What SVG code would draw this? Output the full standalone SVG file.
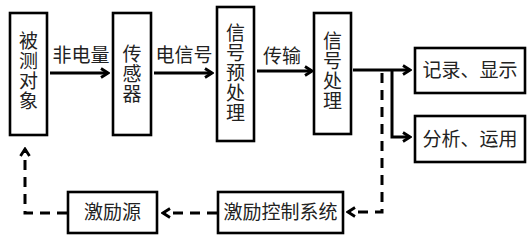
<svg xmlns="http://www.w3.org/2000/svg" width="532" height="241" viewBox="0 0 532 241">
<defs>
<marker id="ah" viewBox="0 0 12 12" refX="10" refY="6" markerWidth="12" markerHeight="12" markerUnits="userSpaceOnUse" orient="auto">
<path d="M3,1.5 L10,6 L3,10.5" fill="none" stroke="#000" stroke-width="2.8" stroke-linejoin="miter"/>
</marker>
</defs>
<style>
.box{fill:#fff;stroke:#000;stroke-width:2.6}
.t{font-family:"Liberation Sans","Noto Sans CJK SC",sans-serif;font-size:19px;fill:#222}
.ln{fill:none;stroke:#000;stroke-width:3}
.ds{fill:none;stroke:#000;stroke-width:3;stroke-dasharray:10,7}
</style>
<rect width="532" height="241" fill="#fff"/>
<g id="n1"><rect class="box" x="10" y="13" width="37" height="122"/>
<text class="t" text-anchor="middle"><tspan x="28.5" y="48">被</tspan><tspan x="28.5" y="68">测</tspan><tspan x="28.5" y="88">对</tspan><tspan x="28.5" y="108">象</tspan></text></g>
<g id="n2"><rect class="box" x="113" y="13" width="38" height="122"/>
<text class="t" text-anchor="middle"><tspan x="132" y="61">传</tspan><tspan x="132" y="81">感</tspan><tspan x="132" y="101">器</tspan></text></g>
<g id="n3"><rect class="box" x="217" y="7" width="37" height="134"/>
<text class="t" text-anchor="middle"><tspan x="235.5" y="40">信</tspan><tspan x="235.5" y="60">号</tspan><tspan x="235.5" y="80">预</tspan><tspan x="235.5" y="100">处</tspan><tspan x="235.5" y="120">理</tspan></text></g>
<g id="n4"><rect class="box" x="314" y="13" width="37" height="121"/>
<text class="t" text-anchor="middle"><tspan x="332.5" y="48">信</tspan><tspan x="332.5" y="68">号</tspan><tspan x="332.5" y="88">处</tspan><tspan x="332.5" y="108">理</tspan></text></g>
<g id="n5"><rect class="box" x="415" y="48" width="110" height="45"/>
<text class="t" x="470" y="77" text-anchor="middle">记录、显示</text></g>
<g id="n6"><rect class="box" x="415" y="116" width="110" height="46"/>
<text class="t" x="470" y="146" text-anchor="middle">分析、运用</text></g>
<g id="n7"><rect class="box" x="218" y="192" width="125" height="41"/>
<text class="t" x="280.5" y="219" text-anchor="middle">激励控制系统</text></g>
<g id="n8"><rect class="box" x="68" y="192" width="89" height="41"/>
<text class="t" x="112.5" y="219" text-anchor="middle">激励源</text></g>
<g id="edges">
<line class="ln" x1="50" y1="73" x2="108" y2="73" marker-end="url(#ah)"/>
<text class="t" x="81" y="62" text-anchor="middle">非电量</text>
<line class="ln" x1="154" y1="73" x2="212" y2="73" marker-end="url(#ah)"/>
<text class="t" x="184" y="62" text-anchor="middle">电信号</text>
<line class="ln" x1="257" y1="71" x2="312" y2="71" marker-end="url(#ah)"/>
<text class="t" x="282" y="63" text-anchor="middle">传输</text>
<line class="ln" x1="353" y1="70" x2="410" y2="70" marker-end="url(#ah)"/>
<path class="ln" d="M392,70 V137 H410" marker-end="url(#ah)"/>
<path class="ds" d="M382,73 V212 H348" marker-end="url(#ah)"/>
<line class="ds" x1="217" y1="213" x2="163" y2="213" marker-end="url(#ah)"/>
<path class="ds" d="M67,213 H25 V149" marker-end="url(#ah)"/>
</g>
</svg>
